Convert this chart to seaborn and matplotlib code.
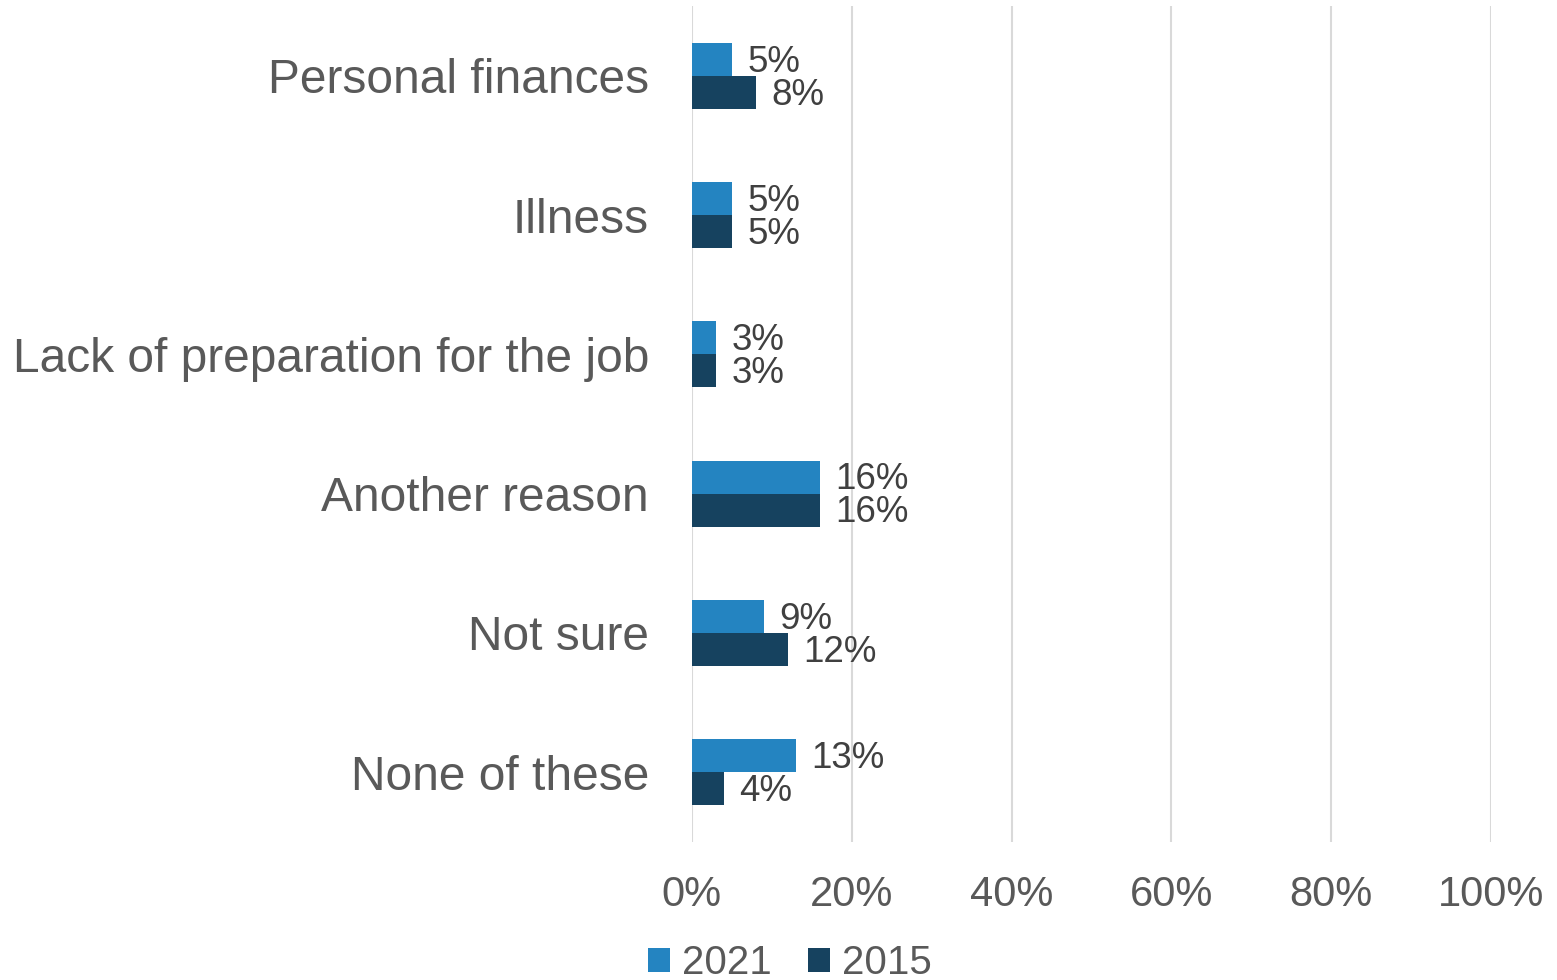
import pandas as pd
import numpy as np
import matplotlib
matplotlib.use("Agg")
import matplotlib.pyplot as plt
import seaborn as sns

categories = ["Personal finances", "Illness", "Lack of preparation for the job",
              "Another reason", "Not sure", "None of these"]
values_2021 = [5, 5, 3, 16, 9, 13]
values_2015 = [8, 5, 3, 16, 12, 4]
years = ["2021", "2015"]
xticks = [0, 20, 40, 60, 80, 100]

sns.set_theme(style="white")
plt.rcParams['font.family'] = ['Liberation Sans', 'DejaVu Sans']

df = pd.DataFrame({
    "reason": categories * 2,
    "year": ["2021"] * len(categories) + ["2015"] * len(categories),
    "pct": values_2021 + values_2015,
})

fig = plt.figure(figsize=(15.57, 9.8), dpi=100)
ax = fig.add_axes([0.4444, 0.1412, 0.5132, 0.8523])

palette = {"2021": "#2484C1", "2015": "#16425F"}
sns.barplot(data=df, y="reason", x="pct", hue="year", hue_order=years,
            order=categories, palette=palette, width=0.474, gap=0,
            saturation=1, orient="h", ax=ax, legend=True, linewidth=0)

for cont in ax.containers:
    texts = ax.bar_label(cont, labels=[f"{v:.0f}%" for v in cont.datavalues],
                         padding=11, fontsize=26.5, color="#404040")
    # labels sit a touch lower than the bar centre in the original
    for t in texts:
        t.xyann = (11, -2)

ax.set_xlim(0, 100)
ax.set_xticks(xticks)
ax.set_xticklabels([f"{t}%" for t in xticks])
ax.grid(axis="x", color="#D9D9D9", linewidth=1.5)
ax.set_axisbelow(True)
for s in ax.spines.values():
    s.set_visible(False)
ax.set_xlabel("")
ax.set_ylabel("")
ax.tick_params(axis="x", length=0, pad=24, labelsize=30, labelcolor="#595959")
ax.tick_params(axis="y", length=0, pad=31, labelsize=34.5, labelcolor="#595959")

ax.legend(loc="center", bbox_to_anchor=(790 / 1557, 0.017),
          bbox_transform=fig.transFigure, ncol=2, frameon=False,
          fontsize=29, labelcolor="#595959", handlelength=0.55,
          handleheight=0.55, handletextpad=0.3, columnspacing=0.9)

fig.savefig("out.png", dpi=100)
